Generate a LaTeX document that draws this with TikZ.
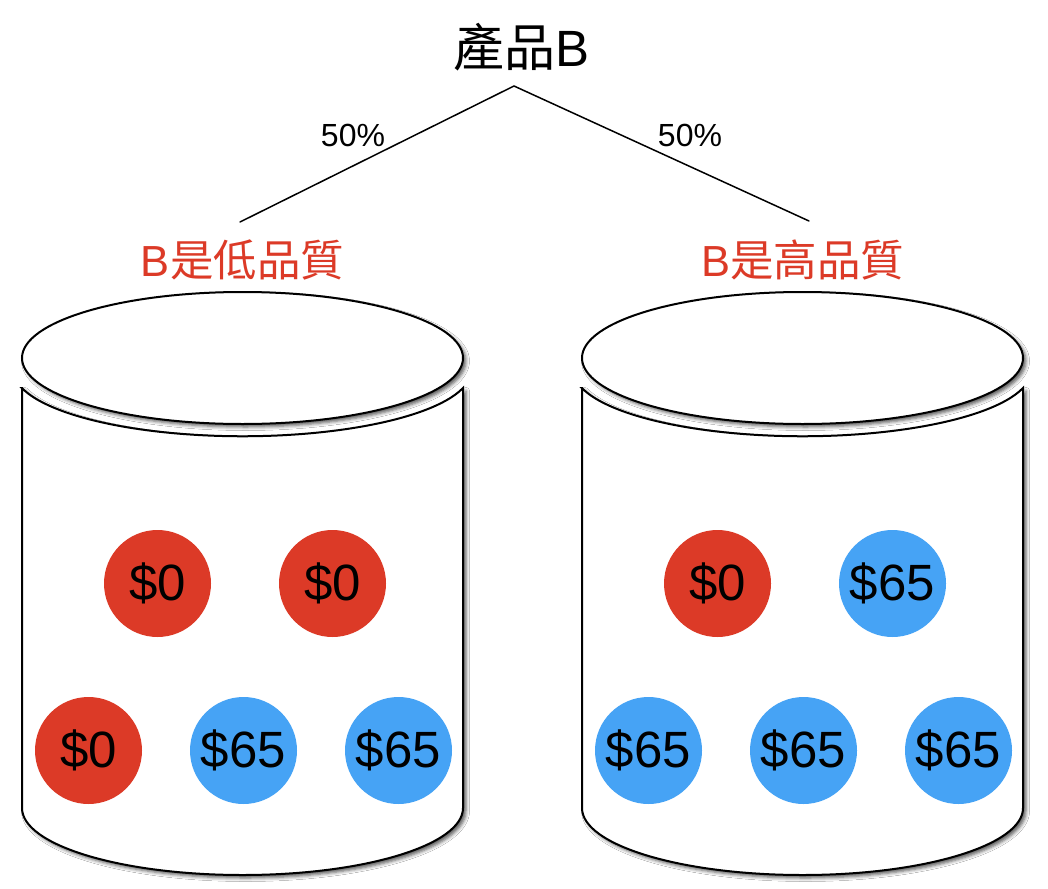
\documentclass[tikz,border=0pt]{standalone}
\usepackage{fontspec}
\setmainfont{Liberation Sans}
\newfontfamily\cjk{Noto Sans CJK TC}
\usetikzlibrary{shadows.blur}
\definecolor{cred}{RGB}{220,58,39}
\definecolor{cblue}{RGB}{70,163,245}
\begin{document}
\begin{tikzpicture}[x=1pt,y=-1pt,
  softshadow/.style={blur shadow={shadow xshift=3pt,shadow yshift=-3pt,shadow blur radius=3.5pt,shadow opacity=65}},
  outline/.style={draw=black,line width=2pt,fill=white},
  ball/.style={circle,minimum size=107pt,inner sep=0pt,text=black,font=\fontsize{51}{60}\selectfont},
  redball/.style={ball,fill=cred},
  blueball/.style={ball,fill=cblue},
  branch/.style={line width=1.5pt,line cap=round},
  pct/.style={font=\fontsize{32}{38}\selectfont},
  qual/.style={text=cred,font=\fontsize{43.5}{52}\selectfont},
  titletext/.style={font=\fontsize{51}{60}\selectfont}
]
\useasboundingbox[fill=white] (0,0) rectangle (1048,888);

% cylinders
\foreach \ox in {0,560} {
  \begin{scope}[xshift=\ox pt]
    \path[outline,softshadow] (22,388) -- (22,808)
      arc[start angle=180,end angle=0,x radius=220.5,y radius=67]
      -- (463,388)
      arc[start angle=15.6,end angle=164.4,x radius=229,y radius=66]
      -- cycle;
    \path[outline,softshadow] (242.5,358) ellipse[x radius=220.5,y radius=66];
  \end{scope}
}

% balls, left cylinder
\node[redball]  (l1) at (157.5,583.5) {\$0};
\node[redball]  (l2) at (332.5,583.5) {\$0};
\node[redball]  (l3) at (88.5,750.5) {\$0};
\node[blueball] (l4) at (243.5,750.5) {\$65};
\node[blueball] (l5) at (398.5,750.5) {\$65};
% balls, right cylinder
\node[redball]  (r1) at (717.5,583.5) {\$0};
\node[blueball] (r2) at (892.5,583.5) {\$65};
\node[blueball] (r3) at (648.5,750.5) {\$65};
\node[blueball] (r4) at (803.5,750.5) {\$65};
\node[blueball] (r5) at (958.5,750.5) {\$65};

% tree
\node[titletext] (top) at (522,47) {{\cjk 產品}B};
\coordinate (apex) at (514,86);
\coordinate (lend) at (240,222);
\coordinate (rend) at (809,221);
\draw[branch] (lend) -- (apex) -- (rend);
\node[pct] (pl) at (353,135) {50\%};
\node[pct] (pr) at (690,135) {50\%};
\node[qual] (ql) at (242.5,260) {B{\cjk 是低品質}};
\node[qual] (qr) at (802.5,260) {B{\cjk 是高品質}};
\end{tikzpicture}
\end{document}
